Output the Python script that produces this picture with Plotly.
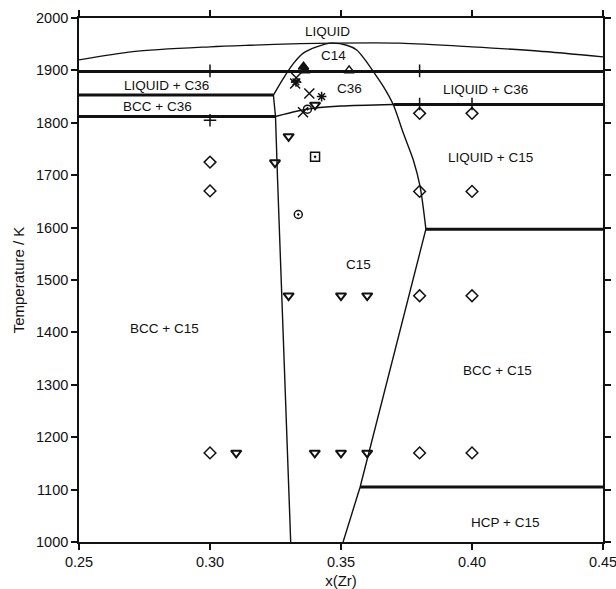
import plotly.graph_objects as go

# ---------------- data ----------------
liquidus_x = [0.25, 0.2706, 0.30, 0.3153, 0.3344, 0.3464, 0.3725, 0.40, 0.425, 0.45]
liquidus_T = [1920, 1936, 1945, 1948, 1951, 1952, 1952, 1945, 1937, 1926]

# C14/C36 dome (upper boundary) from left invariant down to the C15 kink
dome_x = [0.3242, 0.3280, 0.3318, 0.3356, 0.3407, 0.3464, 0.3522, 0.3560, 0.3592,
          0.3623, 0.3662, 0.3700, 0.3738, 0.3776, 0.3802, 0.3824]
dome_T = [1853, 1885, 1913, 1933, 1945, 1952, 1948, 1939, 1920,
          1898, 1869, 1834, 1780, 1729, 1678, 1597]

# C36 lower boundary (thin part)
c36_low_x = [0.3250, 0.3330, 0.3400, 0.3500, 0.3700]
c36_low_T = [1812, 1822, 1828, 1832, 1835]

# C15 left boundary
c15_left_x = [0.3242, 0.3250, 0.3258, 0.3272, 0.3286, 0.3308]
c15_left_T = [1853, 1812, 1690, 1500, 1310, 1000]

# C15 right boundary (below the 1597 K kink)
c15_right_x = [0.3824, 0.3573, 0.3508]
c15_right_T = [1597, 1105, 1000]

# invariant (thick) lines: temperature, x start, x end
inv_T = [1898, 1853, 1812, 1835, 1597, 1105]
inv_x0 = [0.25, 0.25, 0.25, 0.3700, 0.3824, 0.3573]
inv_x1 = [0.45, 0.3242, 0.3250, 0.45, 0.45, 0.45]

# experimental points
diam_x = [0.30, 0.30, 0.30, 0.38, 0.40, 0.38, 0.40, 0.38, 0.40, 0.38, 0.40]
diam_T = [1725, 1670, 1170, 1818, 1818, 1669, 1669, 1470, 1470, 1170, 1170]

tri_dn_x = [0.3248, 0.3300, 0.3401, 0.33, 0.35, 0.36, 0.31, 0.34, 0.35, 0.36]
tri_dn_T = [1724, 1774, 1834, 1470, 1470, 1470, 1170, 1170, 1170, 1170]

plus_x = [0.30, 0.30, 0.38, 0.38, 0.40]
plus_T = [1899, 1805, 1899, 1836, 1836]

xmark_x = [0.3329, 0.3325, 0.3379, 0.3355]
xmark_T = [1886, 1875, 1856, 1820]

star_x = [0.3426, 0.3328]
star_T = [1850, 1878]

circ_x = [0.3337, 0.3372]
circ_T = [1625, 1826]

sq_x = [0.3401]
sq_T = [1735]

tri_up_x = [0.3531]
tri_up_T = [1900]

tri_up_fill_x = [0.3357, 0.3362]
tri_up_fill_T = [1907, 1900]

# region labels
lab_text = ["LIQUID", "C14", "C36", "LIQUID + C36", "BCC + C36", "LIQUID + C36",
            "LIQUID + C15", "C15", "BCC + C15", "BCC + C15", "HCP + C15"]
lab_x = [0.3447, 0.3471, 0.3534, 0.2834, 0.2799, 0.4053, 0.4071, 0.3567, 0.2828, 0.4099, 0.4126]
lab_T = [1975, 1929, 1866, 1872, 1831, 1864, 1733, 1529, 1408, 1328, 1038]

xticks = [0.25, 0.30, 0.35, 0.40, 0.45]
xtick_text = ["0.25", "0.30", "0.35", "0.40", "0.45"]
yticks = [1000, 1100, 1200, 1300, 1400, 1500, 1600, 1700, 1800, 1900, 2000]

# ---------------- figure ----------------
INK = "#111111"
FONT = "Liberation Sans, Arial, sans-serif"

fig = go.Figure()

def line(x, y, w, shape="linear"):
    fig.add_trace(go.Scatter(x=x, y=y, mode="lines", showlegend=False, hoverinfo="skip",
                             line=dict(color=INK, width=w, shape=shape, smoothing=0.8)))

line(liquidus_x, liquidus_T, 1.3, "spline")
line(dome_x, dome_T, 1.4, "spline")
line(c36_low_x, c36_low_T, 1.4, "spline")
line(c15_left_x, c15_left_T, 1.4)
line(c15_right_x, c15_right_T, 1.4)
for T, a, b in zip(inv_T, inv_x0, inv_x1):
    line([a, b], [T, T], 3.0)

def pts(x, y, sym, size=8, lw=1.5):
    fig.add_trace(go.Scatter(x=x, y=y, mode="markers", showlegend=False, hoverinfo="skip",
                             marker=dict(symbol=sym, size=size, color=INK,
                                         line=dict(color=INK, width=lw))))

pts(diam_x, diam_T, "diamond-open", 9)
pts(tri_dn_x, tri_dn_T, "triangle-down-open", 9, 2)
pts(plus_x, plus_T, "cross-thin-open", 9)
pts(xmark_x, xmark_T, "x-thin-open", 10)
pts(star_x, star_T, "asterisk-open", 8)
pts(circ_x, circ_T, "circle-open-dot", 8)
pts(sq_x, sq_T, "square-open-dot", 9)
pts(tri_up_x, tri_up_T, "triangle-up-open", 9)
pts(tri_up_fill_x, tri_up_fill_T, "triangle-up", 9)

for t, x, y in zip(lab_text, lab_x, lab_T):
    fig.add_annotation(x=x, y=y, text=t, showarrow=False,
                       font=dict(family=FONT, size=13.5, color=INK))

axis_common = dict(showline=True, linecolor=INK, linewidth=1.6, mirror="ticks",
                   ticks="outside", ticklen=6, tickwidth=1.5, tickcolor=INK,
                   showgrid=False, zeroline=False, ticklabeloverflow="allow",
                   tickfont=dict(family=FONT, size=14.5, color=INK))

fig.update_xaxes(range=[0.25, 0.45], tickvals=xticks, ticktext=xtick_text,
                 title=dict(text="x(Zr)", font=dict(family=FONT, size=15, color=INK), standoff=6),
                 **axis_common)
fig.update_yaxes(range=[1000, 2000], tickvals=yticks,
                 title=dict(text="Temperature / K", font=dict(family=FONT, size=15, color=INK), standoff=8),
                 **axis_common)

fig.update_layout(width=616, height=589, margin=dict(l=79, r=13, t=18, b=47, autoexpand=False),
                  plot_bgcolor="white", paper_bgcolor="white")

fig.write_html("out.html", config={"displayModeBar": False},
               post_script="document.body.style.margin='0px';document.body.style.padding='0px';")
